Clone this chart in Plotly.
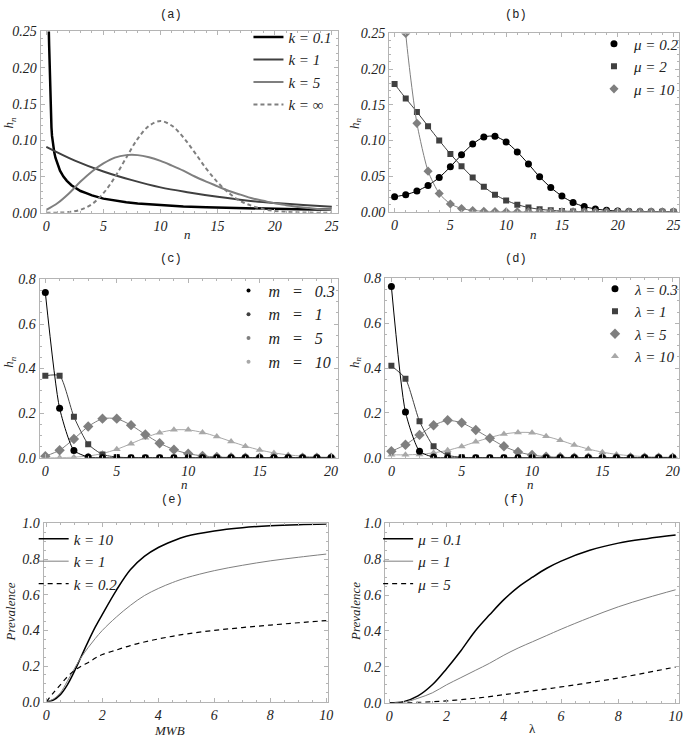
import plotly.graph_objects as go

W, H = 689, 746

# ---- (a) worm burden distribution, continuous in n ----
a_n_k01 = [0, 0.1, 0.2, 0.25, 0.3, 0.35, 0.4, 0.45, 0.5, 0.6, 0.7, 0.8, 1.0, 1.2, 1.5, 1.8, 2.2,
           2.6, 3.0, 3.5, 4.0, 5.0, 6.0, 7.0, 8.0, 10, 12, 14, 16, 18, 20, 22, 25]
a_h_k01 = [0.60, 0.34, 0.265, 0.23, 0.19, 0.16, 0.135, 0.118, 0.106, 0.092, 0.083, 0.076, 0.066,
           0.058, 0.050, 0.044, 0.038, 0.034, 0.030, 0.027, 0.024, 0.0195, 0.0165, 0.0145, 0.0128,
           0.0103, 0.0087, 0.0075, 0.0066, 0.0059, 0.0053, 0.0048, 0.0042]
a_n_k1 = [0, 2.5, 5, 7.5, 10, 12.5, 15, 17.5, 20, 22.5, 25]
a_h_k1 = [0.091, 0.072, 0.057, 0.045, 0.035, 0.028, 0.022, 0.017, 0.0135, 0.0107, 0.0084]
a_n = list(range(26))
a_h_k5 = [0.004, 0.0135, 0.027, 0.043, 0.057, 0.068, 0.076, 0.0795, 0.0795, 0.0765, 0.0715, 0.065,
          0.058, 0.050, 0.043, 0.0365, 0.030, 0.025, 0.020, 0.0165, 0.013, 0.0105, 0.008, 0.0065,
          0.005, 0.004]
a_h_kinf = [0.00002, 0.0002, 0.001, 0.0042, 0.012, 0.027, 0.049, 0.076, 0.102, 0.120, 0.1265,
            0.120, 0.104, 0.083, 0.061, 0.042, 0.027, 0.016, 0.0095, 0.005, 0.0026, 0.0013,
            0.0006, 0.0003, 0.0001, 0.00005]

# ---- (b) ----
b_n = list(range(26))
b_mu02 = [0.021, 0.024, 0.029, 0.037, 0.048, 0.063, 0.080, 0.095, 0.105, 0.106, 0.098, 0.084,
          0.067, 0.049, 0.034, 0.022, 0.013, 0.0073, 0.004, 0.002, 0.001, 0.0005, 0.0002, 0.0001,
          0.0, 0.0]
b_mu2 = [0.179, 0.159, 0.140, 0.120, 0.100, 0.081, 0.064, 0.048, 0.035, 0.024, 0.016, 0.010,
         0.006, 0.0035, 0.002, 0.001, 0.0005, 0.0003, 0.0001, 0, 0, 0, 0, 0, 0, 0]
b_mu10 = [0.55, 0.25, 0.124, 0.057, 0.0256, 0.011, 0.0046, 0.0018, 0.0007, 0.0003, 0.0001, 0,
          0, 0, 0, 0, 0, 0, 0, 0, 0, 0, 0, 0, 0, 0]

# ---- (c) ----
c_n = list(range(21))
c_m03 = [0.741, 0.222, 0.033, 0.0033, 0.0003] + [0] * 16
c_m1 = [0.368, 0.368, 0.184, 0.061, 0.015, 0.003, 0.0005, 0.0001] + [0] * 13
c_m5 = [0.0067, 0.0337, 0.0842, 0.1404, 0.1755, 0.1755, 0.1462, 0.1044, 0.0653, 0.0363, 0.0181,
        0.0082, 0.0034, 0.0013, 0.0005, 0.0002, 0.0001, 0, 0, 0, 0]
c_m10 = [0.0, 0.0005, 0.0023, 0.0076, 0.0189, 0.0378, 0.0631, 0.0901, 0.1126, 0.1251, 0.1251,
         0.1137, 0.0948, 0.0729, 0.0521, 0.0347, 0.0217, 0.0128, 0.0071, 0.0037, 0.0019]

# ---- (d) ----
d_n = list(range(21))
d_l03 = [0.764, 0.204, 0.029, 0.003, 0.0003] + [0] * 16
d_l1 = [0.41, 0.353, 0.163, 0.051, 0.011, 0.002, 0.0003] + [0] * 14
d_l5 = [0.029, 0.058, 0.102, 0.145, 0.167, 0.156, 0.124, 0.087, 0.051, 0.026, 0.012, 0.005,
        0.002, 0.0007, 0.0002, 0.0001, 0, 0, 0, 0, 0]
d_l10 = [0.013, 0.013, 0.015, 0.022, 0.033, 0.050, 0.071, 0.090, 0.106, 0.113, 0.112, 0.096,
         0.078, 0.057, 0.039, 0.025, 0.015, 0.009, 0.005, 0.003, 0.002]

# ---- (e) prevalence vs mean worm burden ----
e_x = [0, 0.25, 0.5, 0.75, 1, 1.25, 1.5, 1.75, 2, 2.5, 3, 3.5, 4, 4.5, 5, 6, 7, 8, 9, 10]
e_k10 = [0, 0.01, 0.04, 0.095, 0.17, 0.255, 0.34, 0.42, 0.49, 0.625, 0.74, 0.815, 0.865, 0.90,
         0.928, 0.958, 0.976, 0.987, 0.993, 0.996]
e_k1 = [0, 0.015, 0.05, 0.115, 0.185, 0.25, 0.305, 0.355, 0.40, 0.475, 0.54, 0.595, 0.635, 0.668,
        0.695, 0.735, 0.765, 0.79, 0.81, 0.828]
e_k02 = [0, 0.05, 0.095, 0.14, 0.175, 0.2, 0.22, 0.245, 0.265, 0.29, 0.315, 0.335, 0.352, 0.367,
         0.38, 0.40, 0.416, 0.43, 0.443, 0.455]

# ---- (f) prevalence vs lambda ----
f_x = [0, 0.5, 1, 1.5, 2, 2.5, 3, 3.5, 4, 4.5, 5, 5.5, 6, 7, 8, 9, 10]
f_mu01 = [0, 0.006, 0.038, 0.10, 0.19, 0.29, 0.40, 0.49, 0.575, 0.645, 0.70, 0.75, 0.79, 0.85,
          0.89, 0.915, 0.935]
f_mu1 = [0, 0.002, 0.025, 0.055, 0.10, 0.14, 0.18, 0.22, 0.265, 0.305, 0.34, 0.375, 0.41, 0.475,
         0.535, 0.585, 0.63]
f_mu5 = [0, 0.0, 0.002, 0.005, 0.01, 0.017, 0.025, 0.034, 0.045, 0.055, 0.066, 0.077, 0.088,
         0.112, 0.138, 0.168, 0.199]

BLACK = "#000000"
DARK = "#404040"
MID = "#7f7f7f"
LIGHT = "#a8a8a8"
FRAME = "#b4b4b4"
TEXT = "#222222"
SERIF = "Liberation Serif"
MONO = "Liberation Mono"
SP = "\u00a0\u00a0 "  # wider gaps used in the (c) legend

fig = go.Figure()


def px_x(x):
    return x / W


def px_y(y):
    return 1 - y / H


def add_panel(i, box, xr, yr, xdt, xmin, ydt, ymin, yfmt):
    """One framed panel, Mathematica style: ticks inside on all four sides."""
    left, top, right, bottom = box
    s = "" if i == 1 else str(i)
    tickfont = dict(family=SERIF, size=14, color=TEXT, style="italic")
    common = dict(showline=True, linecolor=FRAME, linewidth=1, mirror="allticks",
                  ticks="inside", ticklen=4, tickcolor=FRAME, showgrid=False,
                  zeroline=False, tickfont=tickfont, tick0=0, ticklabeloverflow="allow")
    fig.update_layout(**{
        "xaxis" + s: dict(domain=[px_x(left), px_x(right)], range=xr, dtick=xdt,
                          anchor="y" + s,
                          minor=dict(dtick=xmin, ticks="inside", ticklen=2,
                                     tickcolor=FRAME, showgrid=False),
                          **common),
        "yaxis" + s: dict(domain=[px_y(bottom), px_y(top)], range=yr, dtick=ydt,
                          anchor="x" + s, tickformat=yfmt,
                          minor=dict(dtick=ymin, ticks="inside", ticklen=2,
                                     tickcolor=FRAME, showgrid=False),
                          **common),
    })


def line(i, x, y, name, color, width, dash="solid", shape="linear"):
    s = "" if i == 1 else str(i)
    fig.add_trace(go.Scatter(x=x, y=y, mode="lines", name=name, xaxis="x" + s, yaxis="y" + s,
                             line=dict(color=color, width=width, dash=dash, shape=shape),
                             legend="legend" + s))


def points(i, x, y, color, symbol, size):
    s = "" if i == 1 else str(i)
    fig.add_trace(go.Scatter(x=x, y=y, mode="lines+markers", xaxis="x" + s, yaxis="y" + s,
                             line=dict(color=color, width=1, shape="spline", smoothing=0.6),
                             marker=dict(color=color, symbol=symbol, size=size),
                             showlegend=False, legend="legend" + s))


def key(i, name, color, symbol, size):
    # legend shows only the marker, as in the original
    s = "" if i == 1 else str(i)
    fig.add_trace(go.Scatter(x=[None], y=[None], mode="markers", name=name,
                             xaxis="x" + s, yaxis="y" + s,
                             marker=dict(color=color, symbol=symbol, size=size),
                             legend="legend" + s))


# panels: pixel frame boxes (left, top, right, bottom)
add_panel(1, (40, 25, 340, 210), [-0.5, 25.5], [0, 0.25], 5, 1, 0.05, 0.01, ".2f")
add_panel(2, (392, 27, 685, 209), [-0.5, 25.5], [0, 0.25], 5, 1, 0.05, 0.01, ".2f")
add_panel(3, (39, 278, 340, 460), [-0.4, 20.45], [0, 0.8], 5, 1, 0.2, 0.05, ".1f")
add_panel(4, (388, 277, 685, 460), [-0.45, 20.45], [0, 0.8], 5, 1, 0.2, 0.05, ".1f")
add_panel(5, (43, 527, 330, 709), [-0.1, 10.05], [0, 1.0], 2, 0.5, 0.2, 0.05, ".1f")
add_panel(6, (388, 527, 685, 710), [-0.15, 10.12], [0, 1.0], 2, 0.5, 0.2, 0.05, ".1f")

# (a)
line(1, a_n_k01, a_h_k01, "k = 0.1", BLACK, 2.5)
line(1, a_n_k1, a_h_k1, "k = 1", DARK, 2, shape="spline")
line(1, a_n, a_h_k5, "k = 5", MID, 2, shape="spline")
line(1, a_n, a_h_kinf, "k = ∞", MID, 2, dash="4px,3px", shape="spline")

# (b)
points(2, b_n, b_mu02, BLACK, "circle", 7)
points(2, b_n, b_mu2, DARK, "square", 6)
points(2, b_n, b_mu10, MID, "diamond", 7)
key(2, "μ = 0.2", BLACK, "circle", 7)
key(2, "μ = 2", DARK, "square", 6)
key(2, "μ = 10", MID, "diamond", 7)

# (c) drawn back to front so the m = 0.3 dots sit on top
points(3, c_n, c_m10, LIGHT, "triangle-up", 7)
points(3, c_n, c_m5, MID, "diamond", 8)
points(3, c_n, c_m1, DARK, "square", 6)
points(3, c_n, c_m03, BLACK, "circle", 7)
key(3, f"m{SP}={SP}0.3", BLACK, "circle", 4)
key(3, f"m{SP}={SP}1", DARK, "circle", 4)
key(3, f"m{SP}={SP}5", MID, "circle", 4)
key(3, f"m{SP}={SP}10", LIGHT, "circle", 4)

# (d)
points(4, d_n, d_l10, LIGHT, "triangle-up", 7)
points(4, d_n, d_l5, MID, "diamond", 8)
points(4, d_n, d_l1, DARK, "square", 6)
points(4, d_n, d_l03, BLACK, "circle", 7)
key(4, "λ = 0.3", BLACK, "circle", 7)
key(4, "λ = 1", DARK, "square", 6)
key(4, "λ = 5", MID, "diamond", 8)
key(4, "λ = 10", LIGHT, "triangle-up", 7)

# (e)
line(5, e_x, e_k10, "k = 10", BLACK, 1.5, shape="spline")
line(5, e_x, e_k1, "k = 1", MID, 1, shape="spline")
line(5, e_x, e_k02, "k = 0.2", BLACK, 1.2, dash="5px,4px", shape="spline")

# (f)
line(6, f_x, f_mu01, "μ = 0.1", BLACK, 1.5, shape="spline")
line(6, f_x, f_mu1, "μ = 1", MID, 1, shape="spline")
line(6, f_x, f_mu5, "μ = 5", BLACK, 1.2, dash="5px,4px", shape="spline")


def legend_at(x, y, anchor="left", size=15):
    return dict(x=px_x(x), y=px_y(y), xanchor=anchor, yanchor="top",
                bgcolor="rgba(0,0,0,0)", itemwidth=30, traceorder="normal",
                font=dict(family=SERIF, size=size, color=TEXT, style="italic"))


fig.update_layout(
    legend=legend_at(250, 14),
    legend2=legend_at(691, 21, "right"),
    legend3=legend_at(343, 272, "right", size=16),
    legend4=legend_at(690, 271, "right"),
    legend5=legend_at(33, 526),
    legend6=legend_at(381, 526),
)

# panel titles and axis labels
notes = [
    ("(a)", 172, 8, 0, MONO), ("(b)", 520, 8, 0, MONO),
    ("(c)", 172, 257, 0, MONO), ("(d)", 520, 257, 0, MONO),
    ("(e)", 173, 503, 0, MONO), ("(f)", 518, 503, 0, MONO),
    ("<i>h</i><sub><i>n</i></sub>", 9, 118, -90, SERIF),
    ("<i>h</i><sub><i>n</i></sub>", 358, 118, -90, SERIF),
    ("<i>h</i><sub><i>n</i></sub>", 9, 362, -90, SERIF),
    ("<i>h</i><sub><i>n</i></sub>", 358, 362, -90, SERIF),
    ("<i>n</i>", 188, 232, 0, SERIF), ("<i>n</i>", 538, 232, 0, SERIF),
    ("<i>n</i>", 185, 487, 0, SERIF), ("<i>n</i>", 535, 487, 0, SERIF),
    ("<i>Prevalence</i>", 10, 617, -90, SERIF), ("<i>Prevalence</i>", 358, 617, -90, SERIF),
    ("<i>MWB</i>", 170, 738, 0, SERIF), ("λ", 537, 736, 0, SERIF),
]
for text, x, y, angle, fam in notes:
    fig.add_annotation(text=text, x=px_x(x), y=px_y(y), xref="paper", yref="paper",
                       showarrow=False, textangle=angle, xanchor="center", yanchor="middle",
                       font=dict(family=fam, size=12 if fam == MONO else 13, color=TEXT))

fig.update_layout(width=W, height=H, margin=dict(l=0, r=0, t=0, b=0),
                  paper_bgcolor="white", plot_bgcolor="white", showlegend=True)

# the page body has a default 8px margin; drop it so the figure fills the window
fig.write_html("out.html", config={"displayModeBar": False},
               post_script="document.body.style.margin = '0';")
